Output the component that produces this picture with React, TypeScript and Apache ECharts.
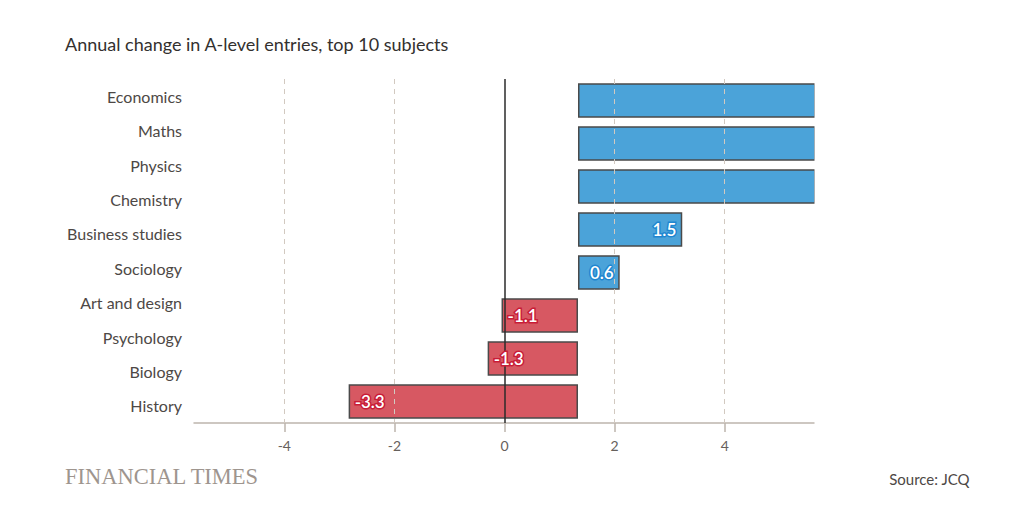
import { useEffect, useRef } from "react";
import * as echarts from "echarts";

// ---- data ----
const subjects = [
  "Economics",
  "Maths",
  "Physics",
  "Chemistry",
  "Business studies",
  "Sociology",
  "Art and design",
  "Psychology",
  "Biology",
  "History",
];
// bars as drawn in the reference (8 bars on their own band layout)
const barSubjects = [
  "Economics",
  "Maths",
  "Physics",
  "Business studies",
  "Sociology",
  "Art and design",
  "Biology",
  "History",
];
const barValues = [6.2, 5.1, 4.4, 1.5, 0.6, -1.1, -1.3, -3.3];
const xTickValues = [-4, -2, 0, 2, 4];
const gridLineValues = [-4, -2, 2, 4];
const zeroLineValue = [0];

const titleText = "Annual change in A-level entries, top 10 subjects";
const sourceText = "Source: JCQ";
const brandText = "FINANCIAL TIMES";

// ---- styles ----
const FONT = "Lato, 'Open Sans', 'Noto Sans', sans-serif";
const BLUE = "#4ba3d9";
const RED = "#d75862";
const BLUE_EDGE = "#1f86d0";
const RED_EDGE = "#c81c37";
const BAR_BORDER = "#4a4a4a";
const TEXT = "#4d4845";
const AXIS_GREY = "#bdb5ad";
const GRID_GREY = "#d2c9c0";

const AXIS_MIN = -5.64;
const AXIS_MAX = 5.64;
const BAR_MIN = -5.525;
const BAR_MAX = 3.41;

export default function App() {
  const ref = useRef<HTMLDivElement>(null);

  useEffect(() => {
    if (!ref.current) return;
    const chart = echarts.init(ref.current, undefined, { renderer: "svg" });

    const labelFormatter = (p: any) => Number(p.value).toFixed(1);

    const option: any = {
      animation: false,
      backgroundColor: "#ffffff",
      grid: { left: 194, right: 209, top: 79, bottom: 109, containLabel: false },
      xAxis: [
        {
          type: "value",
          min: AXIS_MIN,
          max: AXIS_MAX,
          splitLine: { show: false },
          axisLine: { show: true, lineStyle: { color: AXIS_GREY, width: 1.5 } },
          axisTick: {
            show: true,
            customValues: xTickValues,
            length: 9,
            lineStyle: { color: AXIS_GREY, width: 1.5 },
          },
          axisLabel: {
            customValues: xTickValues,
            color: "#66605c",
            fontSize: 14,
            fontFamily: FONT,
            margin: 15,
          },
        },
        {
          type: "value",
          min: BAR_MIN,
          max: BAR_MAX,
          show: false,
          splitLine: { show: false },
        },
      ],
      yAxis: [
        {
          type: "category",
          data: subjects,
          inverse: true,
          axisLine: { show: false },
          axisTick: { show: false },
          splitLine: { show: false },
          axisLabel: {
            color: TEXT,
            fontSize: 16,
            fontFamily: FONT,
            margin: 12,
            align: "right",
          },
        },
        {
          type: "category",
          data: barSubjects,
          inverse: true,
          show: false,
        },
      ],
      graphic: [
        {
          type: "text",
          left: 65,
          top: 35,
          style: { text: titleText, fontSize: 18, fontFamily: FONT, fill: "#33302e" },
        },
        {
          type: "text",
          left: 65,
          top: 465,
          style: {
            text: brandText,
            fontSize: 22.5,
            fontFamily: "'Liberation Serif', 'DejaVu Serif', serif",
            fill: "#9e958e",
          },
        },
        {
          type: "text",
          right: 54,
          top: 471,
          style: { text: sourceText, fontSize: 15, fontFamily: FONT, fill: TEXT },
        },
        {
          // mask hiding the clipped right end of the long bars
          type: "rect",
          shape: { x: 814.5, y: 78, width: 210, height: 346 },
          style: { fill: "#ffffff" },
          z: 100,
          silent: true,
        },
      ],
      series: [
        {
          type: "bar",
          xAxisIndex: 1,
          yAxisIndex: 1,
          clip: true,
          barCategoryGap: "20%",
          barGap: "-100%",
          z: 2,
          itemStyle: { borderColor: BAR_BORDER, borderWidth: 1.5 },
          label: { show: false },
          data: barValues.map((v) => ({
            value: v,
            itemStyle: { color: v >= 0 ? BLUE : RED },
          })),
        },
        {
          type: "line",
          xAxisIndex: 0,
          yAxisIndex: 0,
          data: [],
          z: 3,
          markLine: {
            silent: true,
            z: 3,
            symbol: ["none", "none"],
            label: { show: false },
            data: [
              ...gridLineValues.map((v) => ({
                xAxis: v,
                lineStyle: { color: GRID_GREY, type: [5, 5], width: 1 },
              })),
              ...zeroLineValue.map((v) => ({
                xAxis: v,
                lineStyle: { color: "#2b2b2b", type: "solid", width: 1.5 },
              })),
            ],
          },
        },
        {
          // value labels drawn above the reference lines
          type: "bar",
          xAxisIndex: 1,
          yAxisIndex: 1,
          clip: true,
          barCategoryGap: "20%",
          barGap: "-100%",
          z: 8,
          silent: true,
          itemStyle: { color: "rgba(0,0,0,0)", borderWidth: 0 },
          label: {
            show: true,
            color: "#ffffff",
            fontSize: 17,
            fontWeight: 600,
            fontFamily: FONT,
            textBorderWidth: 3,
            distance: 6,
            formatter: labelFormatter,
          },
          data: barValues.map((v) => ({
            value: v,
            label: {
              show: v <= BAR_MAX,
              position: v >= 0 ? "insideRight" : "insideLeft",
              textBorderColor: v >= 0 ? BLUE_EDGE : RED_EDGE,
            },
          })),
        },
      ],
    };

    chart.setOption(option);
    return () => chart.dispose();
  }, []);

  return (
    <div
      ref={ref}
      style={{ position: "fixed", left: 0, top: 0, width: 1024, height: 532, background: "#fff" }}
    />
  );
}
